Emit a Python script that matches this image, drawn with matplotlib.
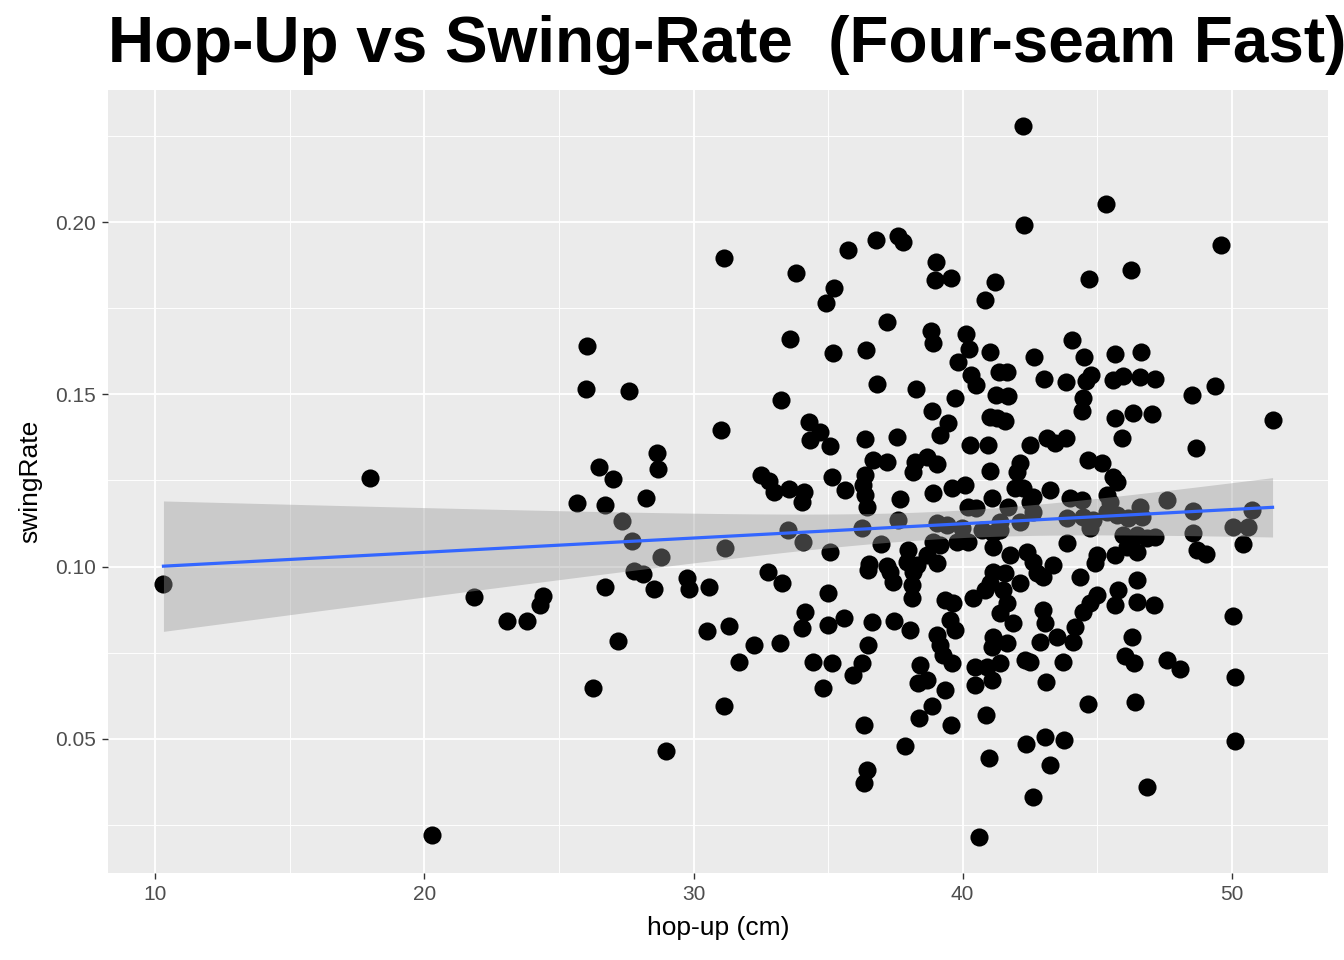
import numpy as np
import matplotlib
matplotlib.use("Agg")
import matplotlib.pyplot as plt

hop_up = [
    10.30, 17.99, 20.29, 21.85, 23.07, 23.82, 24.30, 24.41, 25.67, 26.01,
    26.04, 26.27, 26.49, 26.71, 26.71, 27.01, 27.20, 27.34, 27.60, 27.72,
    27.79, 28.12, 28.24, 28.53, 28.64, 28.68, 28.79, 28.98, 29.76, 29.83,
    30.50, 30.58, 31.02, 31.13, 31.17, 31.13, 31.32, 31.69, 32.25, 32.51,
    32.80, 32.99, 32.77, 33.21, 33.25, 33.29, 33.55, 33.51, 33.58, 33.81,
    34.07, 34.10, 34.03, 34.14, 34.03, 34.29, 34.70, 34.33, 35.07, 34.92,
    35.18, 35.22, 35.14, 35.07, 35.00, 34.44, 35.14, 35.00, 35.59, 34.81,
    35.63, 35.74, 36.26, 36.26, 35.92, 36.33, 36.44, 36.33, 36.37, 36.37,
    36.30, 36.37, 36.44, 36.41, 36.48, 36.48, 36.52, 36.63, 36.67, 36.82,
    36.78, 36.96, 37.19, 37.19, 37.19, 37.30, 37.41, 37.45, 37.56, 37.59,
    37.67, 37.60, 37.78, 37.85, 37.97, 37.93, 38.15, 38.30, 38.12, 38.12,
    38.04, 38.15, 38.23, 38.67, 39.04, 38.26, 38.34, 38.41, 38.67, 38.38,
    38.67, 38.86, 38.82, 38.90, 38.86, 38.90, 38.90, 39.15, 39.01, 38.97,
    39.15, 39.45, 39.04, 39.42, 39.04, 39.04, 39.15, 39.27, 39.34, 39.64,
    39.53, 39.71, 39.34, 39.56, 39.60, 39.56, 39.79, 40.19, 39.60, 40.08,
    39.71, 39.82, 40.12, 40.23, 40.31, 40.49, 39.97, 40.19, 40.49, 40.27,
    40.94, 40.38, 40.83, 40.46, 40.90, 40.46, 41.09, 40.60, 40.83, 41.01,
    40.72, 40.87, 40.98, 41.01, 41.01, 41.09, 41.12, 41.12, 41.12, 41.20,
    41.24, 41.35, 41.01, 41.12, 41.09, 41.38, 41.38, 41.57, 41.50, 41.68,
    41.64, 41.57, 41.27, 41.64, 41.87, 41.38, 41.64, 41.38, 41.68, 41.75,
    41.94, 42.13, 42.01, 42.13, 42.13, 42.24, 42.24, 42.28, 42.39, 42.31,
    42.50, 42.35, 42.50, 42.61, 42.61, 42.61, 42.50, 42.61, 42.65, 42.76,
    42.98, 42.98, 43.05, 42.87, 43.09, 43.05, 43.24, 43.01, 43.24, 43.35,
    43.13, 43.43, 43.50, 43.83, 43.76, 43.72, 43.87, 43.87, 43.98, 43.83,
    44.05, 44.09, 44.16, 44.35, 44.43, 44.46, 44.46, 44.50, 44.43, 44.46,
    44.58, 44.65, 44.69, 44.65, 44.76, 44.73, 44.84, 44.73, 44.99, 44.99,
    44.91, 45.17, 45.32, 45.36, 45.47, 45.36, 45.58, 45.73, 45.58, 45.95,
    45.65, 45.65, 45.65, 45.73, 45.77, 45.65, 45.91, 45.95, 46.03, 46.10,
    46.14, 46.25, 46.32, 46.29, 46.36, 46.40, 46.47, 46.47, 46.47, 46.47,
    46.58, 46.62, 46.58, 46.66, 46.84, 46.84, 47.03, 47.10, 47.14, 47.14,
    47.58, 47.58, 48.07, 48.51, 48.55, 48.55, 48.66, 48.70, 49.03, 49.37,
    49.59, 50.04, 50.60, 50.74, 50.41, 50.04, 50.11, 50.11, 51.52,
]

swing_rate = [
    .0950, .1257, .0219, .0912, .0842, .0842, .0889, .0915, .1185, .1515,
    .1640, .0648, .1289, .1179, .0941, .1254, .0784, .1132, .1510, .1074,
    .0987, .0979, .1199, .0935, .1330, .1283, .1028, .0465, .0967, .0935,
    .0813, .0941, .1396, .1895, .1054, .0596, .0828, .0723, .0773, .1266,
    .1248, .1217, .0984, .0779, .1483, .0953, .1225, .1106, .1660, .1852,
    .1072, .1217, .1188, .0868, .0822, .1420, .1391, .1367, .1350, .1765,
    .1620, .1808, .1260, .1042, .0924, .0723, .0720, .0831, .0851, .0648,
    .1222, .1921, .1112, .0720, .0686, .0541, .0410, .0372, .1370, .1266,
    .1237, .1208, .1173, .1629, .0990, .0773, .1008, .0839, .1309, .1530,
    .1948, .1066, .1002, .1304, .1710, .0984, .0955, .0842, .1376, .1135,
    .1196, .1959, .1942, .0480, .1048, .1013, .0984, .1005, .0947, .0909,
    .0816, .1275, .1304, .1318, .1298, .1515, .0662, .0715, .0671, .0561,
    .1034, .1452, .1684, .1649, .0596, .1214, .1071, .1063, .1884, .1832,
    .1382, .1417, .1127, .1121, .1011, .0802, .0773, .0744, .0903, .0895,
    .0845, .0816, .0642, .1837, .0720, .0541, .1071, .1071, .1228, .1237,
    .1489, .1594, .1675, .1631, .1556, .1527, .1112, .1173, .1170, .1353,
    .1353, .0909, .0932, .0709, .0709, .0657, .0671, .0213, .1774, .1623,
    .1106, .0570, .0445, .1434, .1277, .1199, .1098, .1057, .0984, .1826,
    .1498, .1565, .0953, .0796, .0767, .1130, .1106, .0982, .0932, .1495,
    .1565, .1422, .1431, .0895, .0836, .0866, .0779, .0720, .1173, .1034,
    .1228, .1301, .1275, .1130, .0953, .1228, .2281, .1991, .1042, .0729,
    .0723, .0483, .1188, .1202, .1159, .1013, .1353, .0329, .1608, .0982,
    .0970, .0874, .0836, .0781, .0665, .0506, .0422, .1544, .1222, .1005,
    .1373, .1359, .0796, .1373, .0497, .0723, .1141, .1069, .1199, .1536,
    .1658, .0781, .0825, .0970, .1193, .1144, .0868, .1608, .1452, .1489,
    .1538, .1309, .1834, .0602, .1556, .1112, .1135, .0895, .0918, .1034,
    .1011, .1301, .2052, .1208, .1188, .1159, .1260, .1246, .1541, .1553,
    .1617, .1431, .1034, .1150, .0932, .0889, .1373, .1092, .0741, .1057,
    .1141, .1861, .1446, .0796, .0720, .0607, .0961, .0897, .1092, .1042,
    .1550, .1623, .1173, .1144, .1083, .0358, .1443, .0889, .1544, .1086,
    .1193, .0729, .0703, .1498, .1161, .1098, .1344, .1048, .1037, .1524,
    .1933, .1115, .1115, .1164, .1066, .0857, .0680, .0494, .1425,
]

x_ticks = [10, 20, 30, 40, 50]
y_ticks = [0.05, 0.10, 0.15, 0.20]

x = np.array(hop_up)
y = np.array(swing_rate)

plt.rcParams['font.family'] = ['Liberation Sans', 'DejaVu Sans']

fig = plt.figure(figsize=(13.44, 9.6), dpi=100)
ax = fig.add_axes([108 / 1344, 87 / 960, 1220 / 1344, 783 / 960])
ax.set_facecolor('#EBEBEB')

# lm fit + 95% band like geom_smooth(method = "lm")
n = len(x)
slope, icpt = np.polyfit(x, y, 1)
xs = np.linspace(x.min(), x.max(), 80)
fit = icpt + slope * xs
resid = y - (icpt + slope * x)
s = np.sqrt(np.sum(resid ** 2) / (n - 2))
se = s * np.sqrt(1 / n + (xs - x.mean()) ** 2 / np.sum((x - x.mean()) ** 2))
tq = 1.9675

ax.scatter(x, y, s=170, c='black', linewidths=0, zorder=3)
ax.fill_between(xs, fit - tq * se, fit + tq * se, color='#999999', alpha=0.4,
                linewidth=0, zorder=4)
ax.plot(xs, fit, color='#3366FF', lw=2.3, zorder=5)

xr = x.max() - x.min()
yr = y.max() - y.min()
ax.set_xlim(x.min() - 0.05 * xr, x.max() + 0.05 * xr)
ax.set_ylim(y.min() - 0.05 * yr, y.max() + 0.05 * yr)

ax.set_xticks(x_ticks)
ax.set_yticks(y_ticks)
ax.set_xticks([15, 25, 35, 45], minor=True)
ax.set_yticks([0.025, 0.075, 0.125, 0.175, 0.225], minor=True)
ax.set_yticklabels(['%.2f' % v for v in y_ticks])
ax.grid(which='major', color='white', lw=1.3, zorder=0)
ax.grid(which='minor', color='white', lw=0.65, zorder=0)
ax.set_axisbelow(True)
for sp in ax.spines.values():
    sp.set_visible(False)
ax.tick_params(which='major', length=4, width=1, color='#333333',
               labelcolor='#4D4D4D', labelsize=15, pad=5)
ax.tick_params(which='minor', length=0)

ax.set_xlabel('hop-up (cm)', fontsize=19, color='black', labelpad=8)
ax.set_ylabel('swingRate', fontsize=19, color='black', labelpad=9)

fig.text(108 / 1344, 0.953, 'Hop-Up vs Swing-Rate  (Four-seam Fast)',
         fontsize=46, fontweight='bold', ha='left', va='center')

fig.savefig('out.png', dpi=100, facecolor='white')
